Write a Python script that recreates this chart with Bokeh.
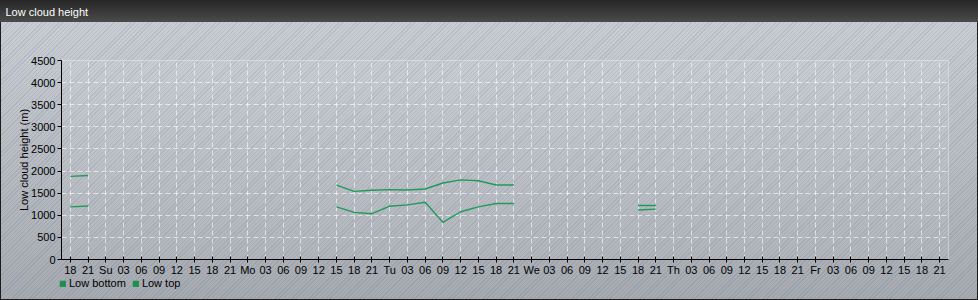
from bokeh.plotting import figure
from bokeh.layouts import column
from bokeh.models import (Range1d, FixedTicker, Legend, LegendItem, Label)
from bokeh.embed import file_html
from bokeh.resources import INLINE

NaN = float("nan")

# hours counted from Saturday 00:00
times = [18, 21, NaN, 63, 66, 69, 72, 75, 78, 81, 84, 87, 90, 93, NaN, 114, 117]
low_bottom = [1190, 1210, NaN, 1190, 1065, 1035, 1205, 1235, 1295, 840, 1080, 1190, 1265, 1265, NaN, 1120, 1140]
low_top = [1880, 1900, NaN, 1680, 1540, 1565, 1580, 1570, 1595, 1730, 1800, 1780, 1685, 1685, NaN, 1220, 1220]

x_ticks = [18, 21, 24, 27, 30, 33, 36, 39, 42, 45, 48, 51, 54, 57, 60, 63, 66, 69, 72, 75,
           78, 81, 84, 87, 90, 93, 96, 99, 102, 105, 108, 111, 114, 117, 120, 123, 126, 129,
           132, 135, 138, 141, 144, 147, 150, 153, 156, 159, 162, 165]
x_labels = ["18", "21", "Su", "03", "06", "09", "12", "15", "18", "21",
            "Mo", "03", "06", "09", "12", "15", "18", "21",
            "Tu", "03", "06", "09", "12", "15", "18", "21",
            "We", "03", "06", "09", "12", "15", "18", "21",
            "Th", "03", "06", "09", "12", "15", "18", "21",
            "Fr", "03", "06", "09", "12", "15", "18", "21"]
y_ticks = [0, 500, 1000, 1500, 2000, 2500, 3000, 3500, 4000, 4500]

title_text = "Low cloud height"
y_label = "Low cloud height (m)"
series_names = ["Low bottom", "Low top"]
line_color = "#1f9a5a"
swatch_color = "#1a9050"
FONT = "Liberation Sans"


def bare(fig):
    fig.border_fill_alpha = 0
    fig.background_fill_alpha = 0
    fig.outline_line_color = None
    fig.frame_align = False
    return fig


# ---- header bar ----
head = bare(figure(width=978, height=22, output_backend="svg", toolbar_location=None,
                   x_axis_location=None, y_axis_location=None, min_border=0,
                   x_range=Range1d(0, 978), y_range=Range1d(0, 22)))
head.grid.visible = False
head.styles = {"background": "linear-gradient(to bottom, #262626 0%, #4b4b4b 100%)"}
head.add_layout(Label(x=5, y=11, x_units="screen", y_units="screen", text=title_text,
                      text_color="white", text_font=FONT, text_font_size="11px",
                      text_baseline="middle", text_align="left"))

# ---- main chart ----
p = bare(figure(width=978, height=256, output_backend="svg", toolbar_location=None,
                x_range=Range1d(16.5, 166.5), y_range=Range1d(0, 4500),
                min_border_top=38, min_border_left=61, min_border_right=30, min_border_bottom=18))
p.background_fill_color = "white"
p.background_fill_alpha = 0.07
p.outline_line_color = "white"
p.outline_line_alpha = 0.35

for g in (p.xgrid, p.ygrid):
    g.grid_line_color = "white"
    g.grid_line_alpha = 0.6
    g.grid_line_dash = "5 3"
    g.grid_line_width = 1
p.xgrid.ticker = FixedTicker(ticks=x_ticks)
p.ygrid.ticker = FixedTicker(ticks=y_ticks)

p.xaxis.ticker = FixedTicker(ticks=x_ticks)
p.xaxis.major_label_overrides = {t: l for t, l in zip(x_ticks, x_labels)}
p.yaxis.ticker = FixedTicker(ticks=y_ticks)
for ax in (p.xaxis, p.yaxis):
    ax.axis_line_color = "black"
    ax.major_tick_line_color = "black"
    ax.minor_tick_line_color = None
    ax.major_label_text_font = FONT
    ax.major_label_text_font_size = "11px"
    ax.major_label_text_color = "black"
p.xaxis.major_tick_in = 3
p.xaxis.major_tick_out = 3
p.xaxis.major_label_standoff = 1
p.yaxis.major_tick_in = 0
p.yaxis.major_tick_out = 4
p.yaxis.major_label_standoff = 2
p.yaxis.axis_label = y_label
p.yaxis.axis_label_text_font = FONT
p.yaxis.axis_label_text_font_size = "11px"
p.yaxis.axis_label_text_font_style = "normal"
p.yaxis.axis_label_text_color = "black"
p.yaxis.axis_label_standoff = -2

p.line(times, low_bottom, line_color=line_color, line_width=1.4)
p.line(times, low_top, line_color=line_color, line_width=1.4)

# ---- legend strip ----
leg = bare(figure(width=978, height=22, output_backend="svg", toolbar_location=None,
                  x_axis_location=None, y_axis_location=None, min_border=0,
                  x_range=Range1d(0, 1), y_range=Range1d(0, 1)))
leg.grid.visible = False
r1 = leg.quad(left=[NaN], right=[NaN], top=[NaN], bottom=[NaN],
              fill_color=swatch_color, line_color=swatch_color)
r2 = leg.quad(left=[NaN], right=[NaN], top=[NaN], bottom=[NaN],
              fill_color=swatch_color, line_color=swatch_color)
legend = Legend(items=[LegendItem(label=series_names[0], renderers=[r1]),
                       LegendItem(label=series_names[1], renderers=[r2])],
                orientation="horizontal", location=(59, 11),
                glyph_width=7, glyph_height=7, label_standoff=3, spacing=6,
                padding=0, margin=0, border_line_color=None, background_fill_alpha=0,
                label_text_font=FONT, label_text_font_size="11px", label_text_color="black",
                label_height=12)
leg.add_layout(legend, "center")

layout = column(head, p, leg, spacing=0)
layout.styles = {
    "background": ("repeating-linear-gradient(135deg, rgba(120,140,175,0.20) 0px, rgba(120,140,175,0.20) 1px, "
                   "rgba(255,255,255,0.08) 1px, rgba(255,255,255,0.08) 3px), "
                   "linear-gradient(to bottom, #c9cdd2 0%, #b3b7bc 55%, #a0a4a9 100%)"),
    "outline": "1px solid #1c1c1c",
    "outline-offset": "-1px",
}

open("out.html", "w").write(file_html(layout, INLINE))
